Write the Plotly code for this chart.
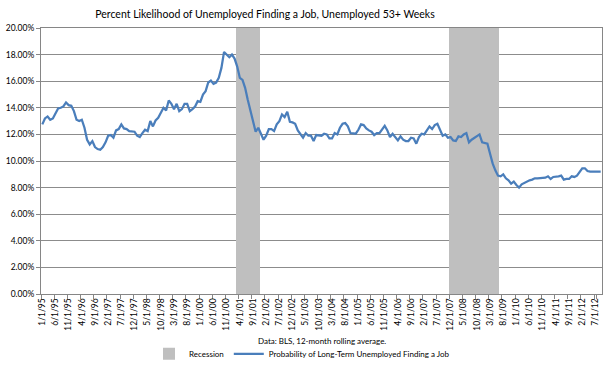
import plotly.graph_objects as go

# Monthly categories Jan 1995 .. Sep 2012
MONTHS = [f"{m}/1/{y % 100:02d}" for y in range(1995, 2013) for m in range(1, 13)][:213]

# Percent likelihood (%) of long-term unemployed finding a job
LIKELIHOOD = [
    12.75, 13.2, 13.35, 13.1, 13.2, 13.6, 13.95, 14.0, 14.1, 14.4,
    14.2, 14.15, 13.75, 13.1, 13.0, 13.1, 12.5, 11.6, 11.25, 11.5,
    11.05, 10.9, 10.85, 11.05, 11.4, 11.9, 11.95, 11.75, 12.3, 12.4,
    12.75, 12.45, 12.4, 12.25, 12.2, 12.2, 11.9, 11.8, 12.1, 12.35,
    12.25, 13.0, 12.6, 13.05, 13.25, 13.6, 14.0, 13.8, 14.55, 14.3,
    13.9, 14.3, 13.75, 13.9, 14.3, 14.3, 13.75, 13.9, 14.1, 14.5,
    14.45, 15.0, 15.25, 15.9, 16.05, 15.8, 15.9, 16.25, 17.0, 18.2,
    18.0, 17.8, 18.0, 17.7, 17.1, 16.25, 16.1, 15.5, 14.6, 13.75,
    13.0, 12.2, 12.5, 12.1, 11.6, 11.9, 12.4, 12.4, 12.25, 12.75,
    13.0, 13.5, 13.3, 13.7, 12.95, 12.9, 12.8, 12.3, 12.05, 11.75,
    12.1, 11.9, 11.9, 11.5, 11.95, 11.9, 11.9, 12.05, 12.0, 11.7,
    11.7, 12.1, 12.0, 12.5, 12.8, 12.85, 12.6, 12.1, 12.05, 12.05,
    12.35, 12.75, 12.7, 12.45, 12.3, 12.2, 11.95, 12.1, 12.1, 12.35,
    12.65, 12.3, 11.8, 12.05, 11.8, 11.55, 11.85, 11.6, 11.5, 11.5,
    11.75, 11.7, 11.3, 11.8, 12.05, 12.0, 12.3, 12.6, 12.4, 12.7,
    12.8, 12.3, 11.9, 12.0, 11.75, 11.8, 11.55, 11.5, 11.85, 11.8,
    12.0, 12.1, 11.4, 11.6, 11.75, 11.85, 12.0, 11.4, 11.35, 11.3,
    10.55, 9.8, 9.3, 8.9, 8.85, 9.0, 8.7, 8.55, 8.3, 8.45,
    8.2, 8.0, 8.25, 8.35, 8.5, 8.55, 8.6, 8.7, 8.7, 8.7,
    8.7, 8.75, 8.85, 8.65, 8.8, 8.8, 8.85, 8.9, 8.6, 8.65,
    8.65, 8.85, 8.8, 8.9, 9.2, 9.45, 9.45, 9.25, 9.2, 9.2,
    9.25, 9.2, 9.2,
]

# NBER recessions (start month, end month)
RECESSIONS = [("3/1/01", "11/1/01"), ("12/1/07", "6/1/09")]
RECESSION_HEIGHT = 0.20

TITLE = "Percent Likelihood of Unemployed Finding a Job, Unemployed 53+ Weeks"
NOTE = "Data: BLS, 12-month rolling average."

n = len(LIKELIHOOD)
cats = MONTHS[:n]
rec_vals = [None] * n
for s, e in RECESSIONS:
    i0, i1 = cats.index(s), cats.index(e)
    for i in range(i0, i1 + 1):
        rec_vals[i] = RECESSION_HEIGHT

FONT = "Lato, 'Liberation Sans', sans-serif"

fig = go.Figure()
fig.add_trace(go.Bar(
    x=cats, y=rec_vals, name="Recession",
    marker=dict(color="#BFBFBF", line=dict(width=0)),
    width=1.0, hoverinfo="skip",
))
fig.add_trace(go.Scatter(
    x=cats, y=[v / 100 for v in LIKELIHOOD], mode="lines",
    name="Probability of Long-Term Unemployed Finding a Job",
    line=dict(color="#4A7EBB", width=2.25),
))

fig.update_layout(
    width=610, height=373, autosize=False,
    margin=dict(l=41, r=8, t=28, b=79, autoexpand=False),
    paper_bgcolor="white", plot_bgcolor="white",
    font=dict(family=FONT, size=9, color="#000000"),
    bargap=0,
    showlegend=True,
    title=dict(text=TITLE, x=265 / 610, xref="container", xanchor="center",
               y=1 - 14 / 373, yref="container", yanchor="middle",
               font=dict(family=FONT, size=10.5, color="#000000")),
    legend=dict(orientation="h", x=(302 - 41) / 561, xanchor="center",
                y=-0.225, yanchor="middle",
                font=dict(family=FONT, size=8), itemwidth=30, traceorder="normal"),
    annotations=[dict(text=NOTE, x=0.5, xref="paper", y=-0.178, yref="paper",
                      showarrow=False, xanchor="center", yanchor="middle",
                      font=dict(family=FONT, size=8))],
)

fig.update_xaxes(
    type="category", categoryorder="array", categoryarray=cats,
    range=[-0.5, n - 0.5],
    tickmode="array", tickvals=cats[::5], ticktext=cats[::5],
    tickangle=-90, tickson="boundaries", ticks="outside", ticklen=4,
    tickcolor="#868686", showgrid=False,
    showline=True, linecolor="#868686", linewidth=1, mirror=True,
    tickfont=dict(family=FONT, size=8.5),
)
fig.update_yaxes(
    range=[0, 0.2], dtick=0.02, tickformat=".2%",
    showgrid=True, gridcolor="#8C8C8C", gridwidth=1,
    showline=True, linecolor="#868686", linewidth=1, mirror=True,
    ticks="outside", ticklen=4, tickcolor="#868686",
    zeroline=False, tickfont=dict(family=FONT, size=8.5),
)

fig.write_html("out.html", config={"displayModeBar": False},
               post_script="document.body.style.margin='0';")
